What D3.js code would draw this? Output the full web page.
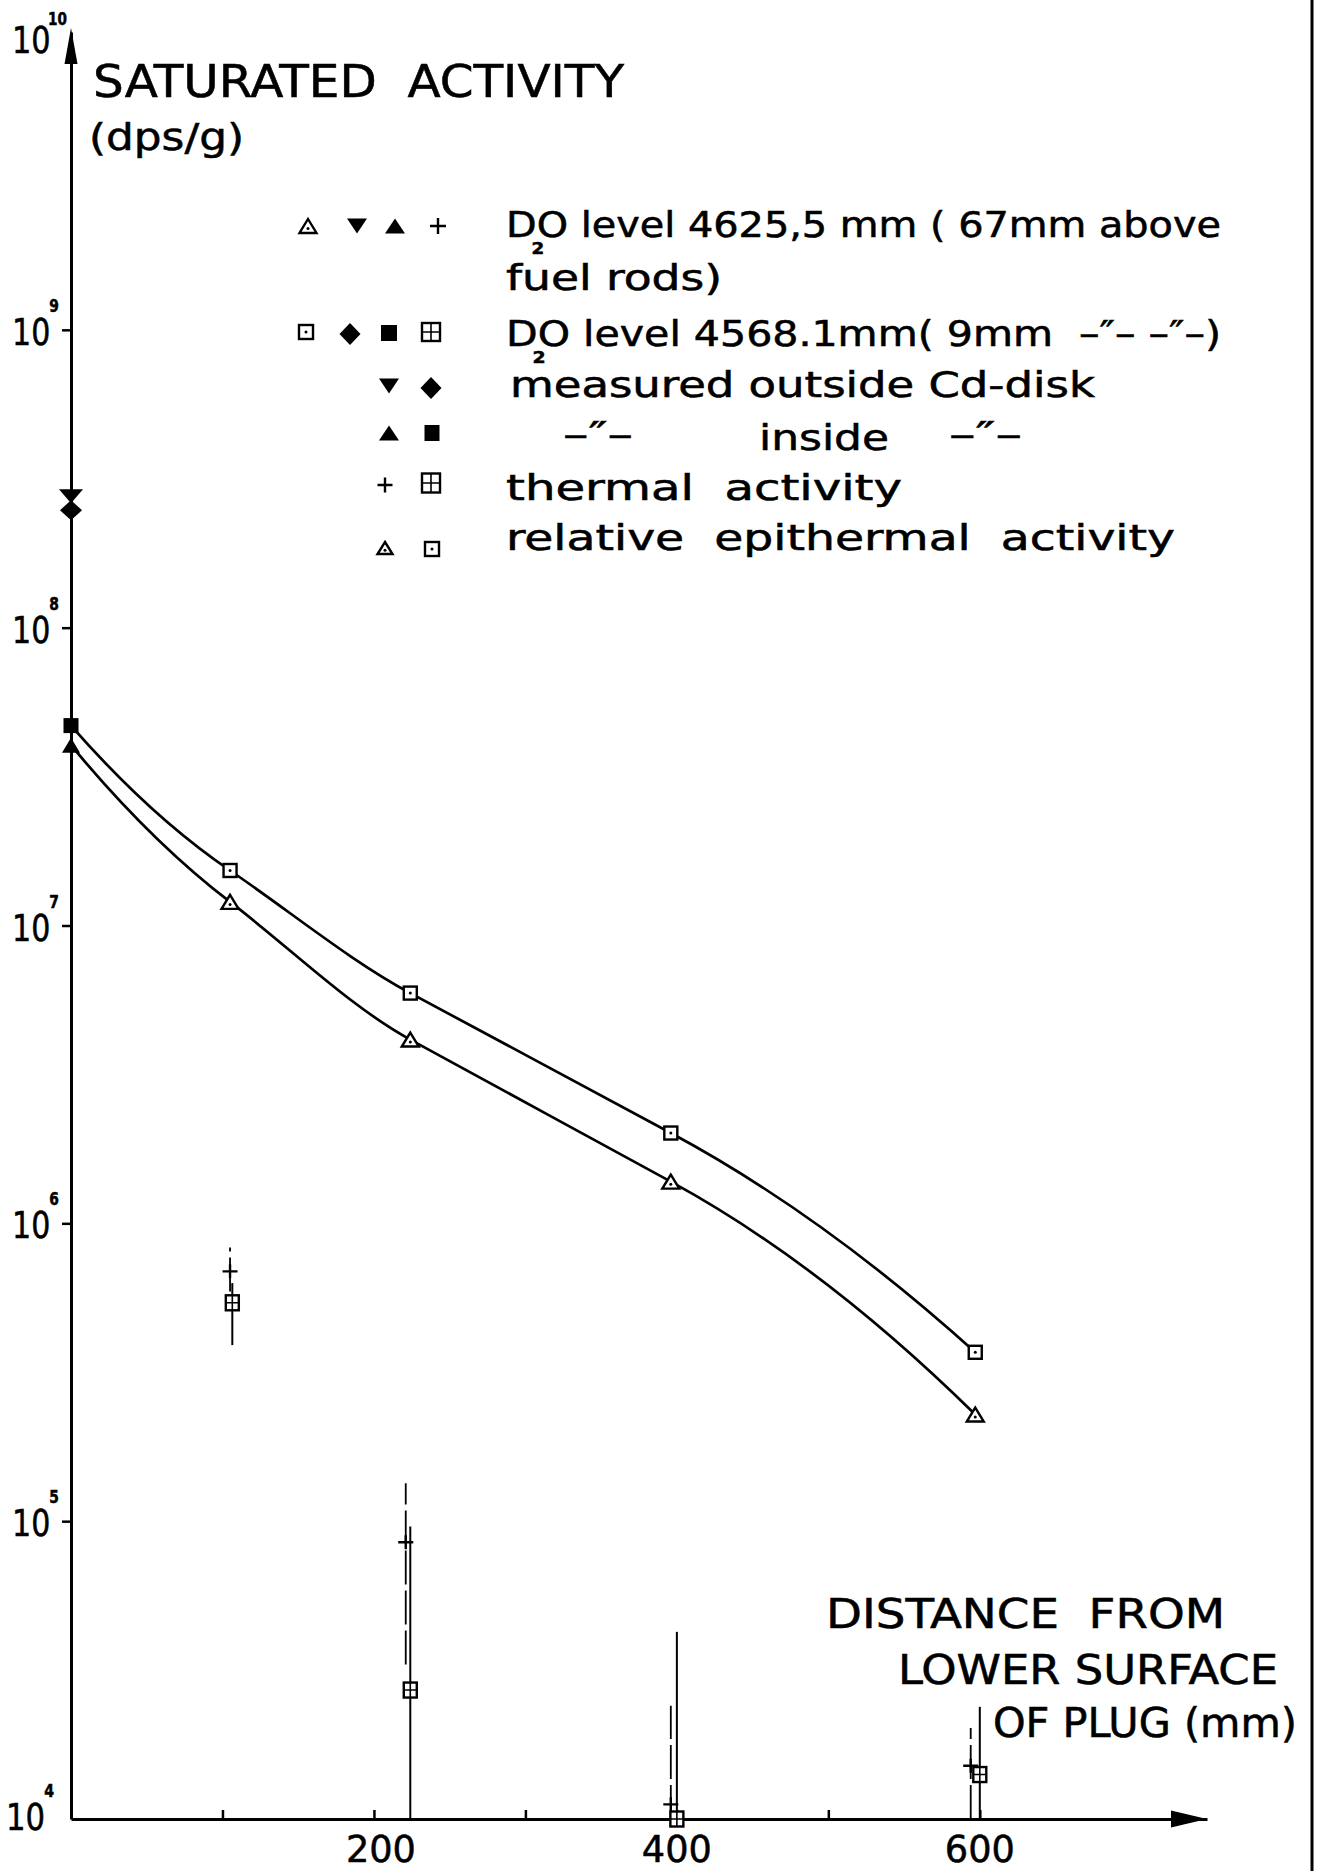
<!DOCTYPE html>
<html><head><meta charset="utf-8">
<script src="https://cdn.jsdelivr.net/npm/d3@7"></script>
<style>
html,body{margin:0;padding:0;background:#fff;}
svg{display:block;}
text{font-family:"DejaVu Sans Condensed","DejaVu Sans",sans-serif;fill:#000;white-space:pre;stroke:#000;stroke-width:0.5;}
</style></head><body>
<svg id="c" width="1318" height="1871"></svg>
<script>
// ---------- data ----------
const yDecades = [1e5, 1e6, 1e7, 1e8, 1e9];
const yDecadeExp = ["5", "6", "7", "8", "9"];
const xTickValues = [100, 200, 300, 400, 500, 600];
const xTickLabels = [200, 400, 600];

// relative epithermal activity (curves)
const epiPos = [105, 224, 396, 597];
const epi4568 = [1.53e7, 5.93e6, 2.01e6, 3.69e5];   // D2O level 4568.1 mm (squares)
const epi4625 = [1.20e7, 4.14e6, 1.38e6, 2.28e5];   // D2O level 4625.5 mm (triangles)

// measured at 0 mm inside / outside Cd-disk
const inside4568 = 4.69e7;   // filled square
const inside4625 = 4.03e7;   // filled triangle
const outside4568 = 2.48e8;  // diamond
const outside4625 = 2.76e8;  // inverted triangle

// thermal activity with uncertainty ranges
const therm4625Pos = [105, 221, 396, 594];
const therm4625 = [6.9e5, 8.5e4, 1.12e4, 1.51e4];
const therm4625Lo = [5.9e5, 3.3e4, 1.0e4, 1.0e4];
const therm4625Hi = [8.3e5, 1.34e5, 2.4e4, 2.02e4];
const therm4568Pos = [106.5, 224, 400, 600];
const therm4568 = [5.41e5, 2.71e4, 1.0e4, 1.41e4];
const therm4568Lo = [3.9e5, 1.0e4, 1.0e4, 1.0e4];
const therm4568Hi = [6.3e5, 9.6e4, 4.25e4, 2.38e4];

// ---------- drawing ----------
const svg = d3.select("#c");
const x = d3.scaleLinear().domain([0, 750]).range([71, 1207]);
const y = d3.scaleLog().domain([1e4, 1e10]).range([1819, 32]);
const INK = "#000";

function txt(g, s, px, py, size, len, opts) {
  opts = opts || {};
  const t = g.append("text").attr("x", px).attr("y", py).attr("font-size", size).text(s);
  if (len) t.attr("textLength", len).attr("lengthAdjust", "spacingAndGlyphs");
  if (opts.anchor) t.attr("text-anchor", opts.anchor);
  if (opts.weight) t.attr("font-weight", opts.weight);
  return t;
}
// text made of several runs (for super/subscripts) in one element
function rich(g, parts, px, py, size, len) {
  const t = g.append("text").attr("x", px).attr("y", py).attr("font-size", size);
  parts.forEach(p => {
    const ts = t.append("tspan").text(p.s);
    if (p.size) ts.attr("font-size", p.size);
    if (p.dy) ts.attr("dy", p.dy);
    if (p.dx) ts.attr("dx", p.dx);
    if (p.bold) ts.attr("font-weight", "bold");
  });
  if (len) t.attr("textLength", len).attr("lengthAdjust", "spacingAndGlyphs");
  return t;
}

// French-curve like Hermite spline: interior tangents follow the shallower neighbouring chord
function curveFrench(context) {
  let xs = [], ys = [];
  return {
    areaStart() {}, areaEnd() {},
    lineStart() { xs = []; ys = []; },
    point(px, py) { xs.push(+px); ys.push(+py); },
    lineEnd() {
      const n = xs.length;
      if (!n) return;
      context.moveTo(xs[0], ys[0]);
      if (n < 2) return;
      const s = [], t = [];
      for (let i = 0; i < n - 1; i++) s[i] = (ys[i + 1] - ys[i]) / (xs[i + 1] - xs[i]);
      for (let i = 1; i < n - 1; i++) t[i] = Math.abs(s[i - 1]) < Math.abs(s[i]) ? s[i - 1] : s[i];
      if (n === 2) { t[0] = t[1] = s[0]; }
      else { t[0] = 2 * s[0] - t[1]; t[n - 1] = 2 * s[n - 2] - t[n - 2]; }
      for (let i = 0; i < n - 1; i++) {
        const h = xs[i + 1] - xs[i];
        context.bezierCurveTo(xs[i] + h / 3, ys[i] + t[i] * h / 3,
          xs[i + 1] - h / 3, ys[i + 1] - t[i + 1] * h / 3, xs[i + 1], ys[i + 1]);
      }
    }
  };
}

function mk(g, type, cx, cy, w, h) {
  h = h || w;
  const sw = 2.4;
  if (type === "triDot") {
    g.append("path").attr("d", `M${cx},${cy - h / 2}L${cx + w / 2},${cy + h / 2}L${cx - w / 2},${cy + h / 2}Z`)
      .attr("fill", "#fff").attr("stroke", INK).attr("stroke-width", sw);
    g.append("circle").attr("cx", cx).attr("cy", cy + h * 0.18).attr("r", 1.5).attr("fill", INK);
  } else if (type === "sqDot") {
    g.append("rect").attr("x", cx - w / 2).attr("y", cy - h / 2).attr("width", w).attr("height", h)
      .attr("fill", "#fff").attr("stroke", INK).attr("stroke-width", sw);
    g.append("circle").attr("cx", cx).attr("cy", cy).attr("r", 1.5).attr("fill", INK);
  } else if (type === "triUp") {
    g.append("path").attr("d", `M${cx},${cy - h / 2}L${cx + w / 2},${cy + h / 2}L${cx - w / 2},${cy + h / 2}Z`).attr("fill", INK);
  } else if (type === "triDown") {
    g.append("path").attr("d", `M${cx - w / 2},${cy - h / 2}L${cx + w / 2},${cy - h / 2}L${cx},${cy + h / 2}Z`).attr("fill", INK);
  } else if (type === "diamond") {
    g.append("path").attr("d", `M${cx},${cy - h / 2}L${cx + w / 2},${cy}L${cx},${cy + h / 2}L${cx - w / 2},${cy}Z`).attr("fill", INK);
  } else if (type === "sqFill") {
    g.append("rect").attr("x", cx - w / 2).attr("y", cy - h / 2).attr("width", w).attr("height", h).attr("fill", INK);
  } else if (type === "plus") {
    g.append("path").attr("d", `M${cx - w / 2},${cy}H${cx + w / 2}M${cx},${cy - h / 2}V${cy + h / 2}`)
      .attr("stroke", INK).attr("stroke-width", 2.4).attr("fill", "none");
  } else if (type === "sqPlus") {
    g.append("rect").attr("x", cx - w / 2).attr("y", cy - h / 2).attr("width", w).attr("height", h)
      .attr("fill", "#fff").attr("stroke", INK).attr("stroke-width", 2.4);
    g.append("path").attr("d", `M${cx - w / 2},${cy}H${cx + w / 2}M${cx},${cy - h / 2}V${cy + h / 2}`)
      .attr("stroke", INK).attr("stroke-width", 1.6).attr("fill", "none");
  }
}

// right border of the page
svg.append("line").attr("x1", 1312).attr("x2", 1312).attr("y1", 0).attr("y2", 1871)
  .attr("stroke", INK).attr("stroke-width", 3);

// y axis
const gY = svg.append("g").attr("transform", `translate(${x(0)},0)`)
  .call(d3.axisLeft(y).tickValues(yDecades).tickSize(9).tickSizeOuter(0).tickFormat(() => ""));
gY.select(".domain").attr("stroke", INK).attr("stroke-width", 3);
gY.selectAll(".tick line").attr("stroke", INK).attr("stroke-width", 2.5);
svg.append("path")
  .attr("d", `M${x(0)},${y(1e10) - 4}L${x(0) + 6.5},${y(1e10) + 32}L${x(0) - 6.5},${y(1e10) + 32}Z`)
  .attr("fill", INK);

// x axis
const gX = svg.append("g").attr("transform", `translate(0,${y(1e4)})`)
  .call(d3.axisBottom(x).tickValues(xTickValues).tickSizeInner(-9).tickSizeOuter(0).tickFormat(() => ""));
gX.select(".domain").attr("stroke", INK).attr("stroke-width", 3);
gX.selectAll(".tick line").attr("stroke", INK).attr("stroke-width", 2.5);
svg.append("path")
  .attr("d", `M${x(750)},${y(1e4)}L${x(750) - 36},${y(1e4) - 8.5}L${x(750) - 36},${y(1e4) + 8.5}Z`)
  .attr("fill", INK);

// y tick labels  10^n
const gL = svg.append("g");
yDecades.forEach((v, i) => {
  rich(gL, [{ s: "10" }, { s: yDecadeExp[i], size: 17, bold: true, dy: -33, dx: -1 }], 12, y(v) + 15, 37, 47);
});
rich(gL, [{ s: "10" }, { s: "10", size: 17, bold: true, dy: -28, dx: -3 }], 12, y(1e10) + 21, 38, 55);
rich(gL, [{ s: "10" }, { s: "4", size: 17, bold: true, dy: -33, dx: -1 }], 6, y(1e4) + 11, 37, 48);

// x tick labels
xTickLabels.forEach(v => txt(gL, String(v), x(v) + (v === 200 ? 7 : 0), 1862, 38, 70, { anchor: "middle" }));

// axis titles
txt(gL, "SATURATED  ACTIVITY", 93, 97, 44, 531);
txt(gL, "(dps/g)", 89, 150, 38, 155);
txt(gL, "DISTANCE  FROM", 826, 1628, 41, 399);
txt(gL, "LOWER SURFACE", 898, 1684, 41, 380);
txt(gL, "OF PLUG (mm)", 993, 1737, 41, 304);

// epithermal curves
const line = d3.line().x(d => x(d[0])).y(d => y(d[1])).curve(curveFrench);
const upper = [[0, inside4568]].concat(epiPos.map((p, i) => [p, epi4568[i]]));
const lower = [[0, inside4625]].concat(epiPos.map((p, i) => [p, epi4625[i]]));
const gC = svg.append("g");
[upper, lower].forEach(d => gC.append("path").attr("d", line(d))
  .attr("fill", "none").attr("stroke", INK).attr("stroke-width", 2.7));

// thermal error bars
const gE = svg.append("g");
therm4625Pos.forEach((p, i) => gE.append("line")
  .attr("x1", x(p)).attr("x2", x(p)).attr("y1", y(therm4625Lo[i])).attr("y2", y(therm4625Hi[i]))
  .attr("stroke", INK).attr("stroke-width", 1.8).attr("stroke-dasharray", "34,6"));
therm4568Pos.forEach((p, i) => gE.append("line")
  .attr("x1", x(p)).attr("x2", x(p)).attr("y1", y(therm4568Lo[i])).attr("y2", y(therm4568Hi[i]))
  .attr("stroke", INK).attr("stroke-width", 2));

// markers
const gM = svg.append("g");
epiPos.forEach((p, i) => {
  mk(gM, "sqDot", x(p), y(epi4568[i]), 13);
  mk(gM, "triDot", x(p), y(epi4625[i]), 17, 14);
});
mk(gM, "sqFill", x(0), y(inside4568), 15);
mk(gM, "triUp", x(0), y(inside4625), 18, 15);
mk(gM, "triDown", x(0), y(outside4625), 24, 14);
mk(gM, "diamond", x(0), y(outside4568), 22, 20);
therm4625Pos.forEach((p, i) => mk(gM, "plus", x(p), y(therm4625[i]), 15, 14));
therm4568Pos.forEach((p, i) => mk(gM, "sqPlus", x(p), y(therm4568[i]), 13, 15));

// legend
const gLe = svg.append("g");
mk(gLe, "triDot", 308, 226, 17, 14);
mk(gLe, "triDown", 357, 226, 20, 15);
mk(gLe, "triUp", 395, 226, 20, 15);
mk(gLe, "plus", 438, 226, 16, 16);
rich(gLe, [{ s: "D" }, { s: "2", size: 16, bold: true, dy: 17, dx: -4 },
  { s: "O level 4625,5 mm ( 67mm above", dy: -17, dx: -6 }], 506, 237, 35, 715);
txt(gLe, "fuel rods)", 506, 290, 35, 216);

mk(gLe, "sqDot", 306, 332, 14);
mk(gLe, "diamond", 350, 334, 21, 22);
mk(gLe, "sqFill", 389, 333, 16, 16);
mk(gLe, "sqPlus", 431, 332, 18, 18);
rich(gLe, [{ s: "D" }, { s: "2", size: 16, bold: true, dy: 17, dx: -4 },
  { s: "O level 4568.1mm( 9mm  \u2013\u2033\u2013 \u2013\u2033\u2013)", dy: -17, dx: -6 }], 506, 346, 35, 715);

mk(gLe, "triDown", 389, 386, 20, 15);
mk(gLe, "diamond", 431, 388, 21, 22);
txt(gLe, "measured outside Cd-disk", 510, 397, 35, 585);

mk(gLe, "triUp", 389, 433, 20, 15);
mk(gLe, "sqFill", 432, 433, 15, 16);
txt(gLe, "\u2013\u2033\u2013", 563, 447, 35, 70);
txt(gLe, "inside", 759, 450, 35, 130);
txt(gLe, "\u2013\u2033\u2013", 949, 447, 35, 73);

mk(gLe, "plus", 385, 485, 15, 15);
mk(gLe, "sqPlus", 431, 483, 18, 19);
txt(gLe, "thermal  activity", 506, 500, 35, 396);

mk(gLe, "triDot", 385, 548, 15, 12);
mk(gLe, "sqDot", 432, 549, 14);
txt(gLe, "relative  epithermal  activity", 506, 550, 35, 669);
</script>
</body></html>
